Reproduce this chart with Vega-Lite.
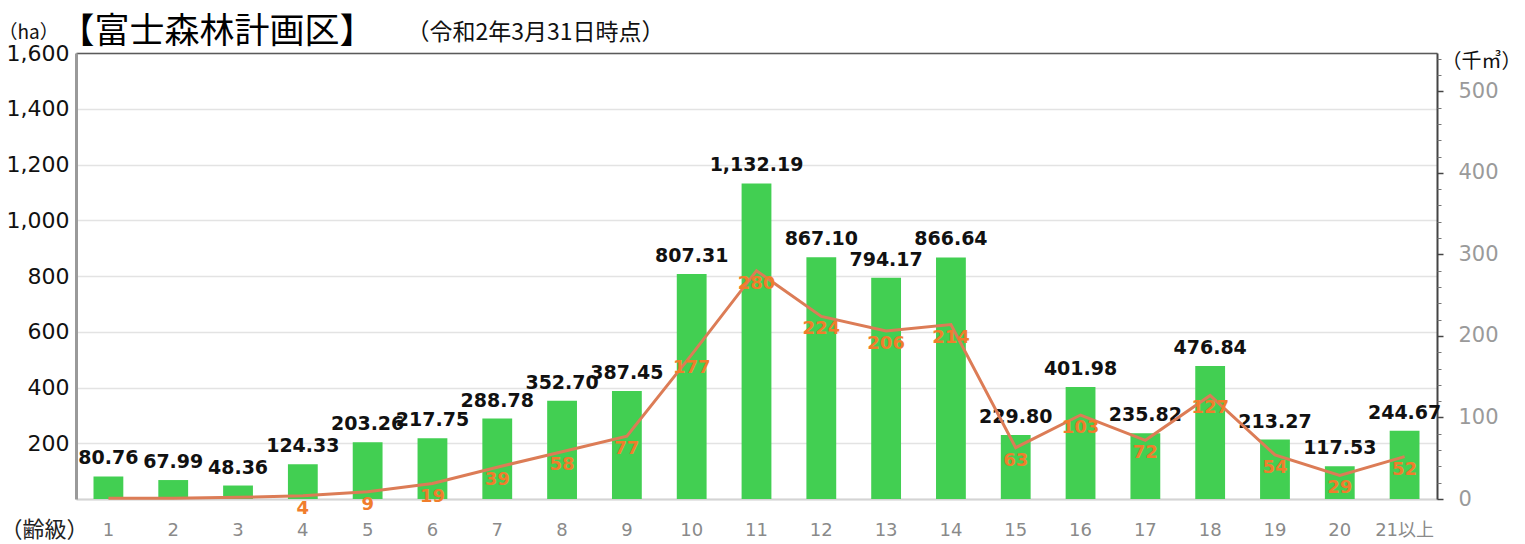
{
  "$schema": "https://vega.github.io/schema/vega-lite/v6.json",
  "width": 1361,
  "height": 446,
  "autosize": {"type": "none"},
  "padding": {"left": 76, "top": 53, "right": 88, "bottom": 45},
  "background": "white",
  "config": {"view": {"stroke": null}, "font": "'DejaVu Sans', 'Noto Sans CJK JP'"},
  "data": {
    "values": [
      {"c": "1", "ha": 80.76, "vol": 1},
      {"c": "2", "ha": 67.99, "vol": 1},
      {"c": "3", "ha": 48.36, "vol": 2},
      {"c": "4", "ha": 124.33, "vol": 4},
      {"c": "5", "ha": 203.26, "vol": 9},
      {"c": "6", "ha": 217.75, "vol": 19},
      {"c": "7", "ha": 288.78, "vol": 39},
      {"c": "8", "ha": 352.70, "vol": 58},
      {"c": "9", "ha": 387.45, "vol": 77},
      {"c": "10", "ha": 807.31, "vol": 177},
      {"c": "11", "ha": 1132.19, "vol": 280},
      {"c": "12", "ha": 867.10, "vol": 224},
      {"c": "13", "ha": 794.17, "vol": 206},
      {"c": "14", "ha": 866.64, "vol": 214},
      {"c": "15", "ha": 229.80, "vol": 63},
      {"c": "16", "ha": 401.98, "vol": 103},
      {"c": "17", "ha": 235.82, "vol": 72},
      {"c": "18", "ha": 476.84, "vol": 127},
      {"c": "19", "ha": 213.27, "vol": 54},
      {"c": "20", "ha": 117.53, "vol": 29},
      {"c": "21以上", "ha": 244.67, "vol": 52}
    ]
  },
  "resolve": {"scale": {"y": "independent"}, "axis": {"x": "independent", "y": "independent"}},
  "layer": [
    {
      "mark": {"type": "bar", "color": "#42cf52"},
      "encoding": {
        "x": {
          "field": "c", "type": "nominal", "sort": null,
          "scale": {"domain": ["1","2","3","4","5","6","7","8","9","10","11","12","13","14","15","16","17","18","19","20","21以上"], "paddingInner": 0.54, "paddingOuter": 0.27},
          "axis": {
            "orient": "bottom", "labelAngle": 0, "labelFontSize": 18, "labelColor": "#8a8a8a", "labelPadding": 22,
            "ticks": false, "tickSize": 0, "domain": true, "domainColor": "#d4d4d4", "domainWidth": 2, "grid": false,
            "title": "（齢級）", "titleAngle": 0, "titleX": -76, "titleY": 30, "titleAlign": "left", "titleBaseline": "middle",
            "titleFont": "Noto Sans CJK JP", "titleFontSize": 22, "titleFontWeight": "normal", "titleColor": "#222"
          }
        },
        "y": {
          "field": "ha", "type": "quantitative", "scale": {"domain": [0, 1600], "nice": false},
          "axis": {
            "orient": "left", "values": [0, 200, 400, 600, 800, 1000, 1200, 1400, 1600],
            "labelExpr": "datum.value == 0 ? '' : format(datum.value, ',')",
            "labelFontSize": 22, "labelColor": "#111", "labelPadding": 7, "ticks": false, "tickSize": 0,
            "domainColor": "#9a9a9a", "domainWidth": 3, "grid": true, "gridColor": "#e3e3e3", "gridWidth": 1.5,
            "title": "（ha）", "titleAngle": 0, "titleX": -78, "titleY": -21, "titleAlign": "left", "titleBaseline": "middle",
            "titleFont": "Noto Sans CJK JP", "titleFontSize": 19, "titleFontWeight": "normal", "titleColor": "#111"
          }
        }
      }
    },
    {
      "mark": {"type": "text", "baseline": "middle", "dy": -18, "fontWeight": "bold", "fontSize": 19, "color": "#111", "font": "DejaVu Sans"},
      "encoding": {
        "x": {"field": "c", "type": "nominal", "sort": null, "axis": null},
        "y": {"field": "ha", "type": "quantitative", "scale": {"domain": [0, 1600], "nice": false}, "axis": null},
        "text": {"field": "ha", "type": "quantitative", "format": ",.2f"}
      }
    },
    {
      "mark": {"type": "line", "color": "#dc7c56", "strokeWidth": 3},
      "encoding": {
        "x": {
          "field": "c", "type": "nominal", "sort": null,
          "axis": {
            "orient": "top", "labels": false, "ticks": false, "domain": true, "domainColor": "#5a5a5a", "domainWidth": 1.5, "grid": false,
            "title": "【富士森林計画区】", "titleAngle": 0, "titleX": -17, "titleY": -22, "titleAlign": "left", "titleBaseline": "middle",
            "titleFont": "Noto Sans CJK JP", "titleFontSize": 35, "titleFontWeight": "normal", "titleColor": "#000"
          }
        },
        "y": {
          "field": "vol", "type": "quantitative", "scale": {"domain": [0, 547], "nice": false},
          "axis": {
            "orient": "right", "values": [0, 100, 200, 300, 400, 500],
            "labelFontSize": 21, "labelColor": "#9a9a9a", "labelPadding": 15, "tickSize": 6, "tickColor": "#444", "tickWidth": 1.5,
            "domainColor": "#444", "domainWidth": 2, "grid": false,
            "title": "（千㎥）", "titleAngle": 0, "titleX": 4, "titleY": 8, "titleAlign": "left", "titleBaseline": "middle",
            "titleFont": "Noto Sans CJK JP", "titleFontSize": 20, "titleFontWeight": "normal", "titleColor": "#111"
          }
        }
      }
    },
    {
      "transform": [{"filter": "datum.vol >= 4"}],
      "mark": {"type": "text", "baseline": "middle", "dy": 13, "fontWeight": "bold", "fontSize": 18, "color": "#f07d2c", "font": "DejaVu Sans"},
      "encoding": {
        "x": {
          "field": "c", "type": "nominal", "sort": null,
          "axis": {
            "orient": "top", "labels": false, "ticks": false, "domain": false, "grid": false,
            "title": "（令和2年3月31日時点）", "titleAngle": 0, "titleX": 330, "titleY": -21, "titleAlign": "left", "titleBaseline": "middle",
            "titleFont": "Noto Sans CJK JP", "titleFontSize": 23, "titleFontWeight": "normal", "titleColor": "#111"
          }
        },
        "y": {
          "field": "vol", "type": "quantitative", "scale": {"domain": [0, 547], "nice": false},
          "axis": {
            "orient": "right", "values": [20, 40, 60, 80, 120, 140, 160, 180, 220, 240, 260, 280, 320, 340, 360, 380, 420, 440, 460, 480, 520, 540],
            "labels": false, "domain": false, "grid": false, "tickSize": 4, "tickColor": "#777", "tickWidth": 1, "title": null
          }
        },
        "text": {"field": "vol", "type": "quantitative"}
      }
    }
  ]
}
